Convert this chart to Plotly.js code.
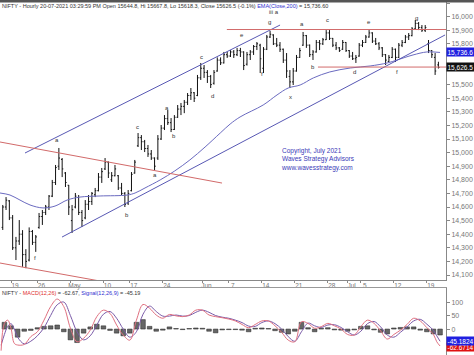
<!DOCTYPE html>
<html><head><meta charset="utf-8">
<script src="https://cdn.plot.ly/plotly-3.0.1.min.js"></script>
<style>html,body{margin:0;padding:0;background:#fff;}#chart{width:474px;height:355px;}</style>
</head><body><div id="chart"></div>
<script>
// trading sessions (index = position on the x axis)
const tradingDays = ['2021-04-15','2021-04-16','2021-04-19','2021-04-20','2021-04-22','2021-04-23',
 '2021-04-26','2021-04-27','2021-04-28','2021-04-29','2021-04-30','2021-05-03','2021-05-04','2021-05-05',
 '2021-05-06','2021-05-07','2021-05-10','2021-05-11','2021-05-12','2021-05-14','2021-05-17','2021-05-18',
 '2021-05-19','2021-05-20','2021-05-21','2021-05-24','2021-05-25','2021-05-26','2021-05-27','2021-05-28',
 '2021-05-31','2021-06-01','2021-06-02','2021-06-03','2021-06-04','2021-06-07','2021-06-08','2021-06-09',
 '2021-06-10','2021-06-11','2021-06-14','2021-06-15','2021-06-16','2021-06-17','2021-06-18','2021-06-21',
 '2021-06-22','2021-06-23','2021-06-24','2021-06-25','2021-06-28','2021-06-29','2021-06-30','2021-07-01',
 '2021-07-02','2021-07-05','2021-07-06','2021-07-07','2021-07-08','2021-07-09','2021-07-12','2021-07-13',
 '2021-07-14','2021-07-15','2021-07-16','2021-07-19','2021-07-20'];

// half-session price bars (first = second half of 15 Apr)
const barOpen = [14450,14600,14645,14520,14300,14350,14400,14250,14210,14420,14340,14450,14530,14560,14600,14680,14780,14900,14950,14850,14760,14500,14600,14670,14560,14520,14620,14640,14690,14720,14820,14880,14930,14800,14830,14830,14740,14700,14630,14720,14850,15050,15110,15080,15030,14990,14960,14960,15100,15180,15250,15220,15170,15260,15320,15340,15370,15420,15440,15420,15550,15620,15590,15560,15510,15600,15680,15660,15720,15710,15740,15720,15750,15740,15650,15720,15740,15780,15790,15620,15760,15850,15865,15800,15790,15760,15680,15560,15520,15600,15700,15790,15860,15790,15720,15740,15810,15800,15830,15880,15840,15790,15770,15760,15810,15750,15710,15690,15710,15790,15810,15850,15880,15820,15800,15770,15720,15670,15700,15760,15700,15790,15810,15850,15860,15910,15950,15920,15900,15800,15750,15700,15645];
const barHigh = [14615,14673,14651,14541,14380,14504,14430,14290,14450,14431,14394,14556,14578,14615,14688,14799,14909,15034,14960,14857,14762,14615,14703,14688,14578,14651,14688,14710,14740,14850,14887,14960,14935,14857,14909,14835,14777,14710,14725,14857,14946,15144,15129,15093,15056,15019,14965,15129,15203,15276,15313,15254,15276,15350,15365,15387,15438,15475,15445,15571,15659,15644,15607,15571,15607,15700,15700,15740,15740,15754,15754,15770,15770,15745,15740,15754,15791,15813,15800,15776,15865,15894,15870,15843,15813,15765,15732,15607,15622,15718,15770,15887,15865,15795,15754,15828,15828,15843,15901,15901,15843,15813,15776,15828,15813,15754,15740,15718,15806,15828,15865,15901,15885,15843,15813,15776,15725,15718,15776,15765,15806,15828,15865,15879,15923,15975,15960,15938,15938,15828,15754,15732,15668];
const barLow = [14431,14578,14504,14284,14210,14321,14160,14150,14200,14321,14270,14440,14468,14541,14578,14673,14762,14872,14820,14747,14541,14409,14590,14541,14453,14510,14578,14615,14673,14715,14777,14872,14813,14784,14825,14725,14688,14600,14615,14715,14845,15041,15019,15004,14968,14946,14872,14946,15093,15166,15203,15151,15166,15255,15276,15290,15350,15387,15372,15415,15534,15549,15512,15475,15500,15595,15644,15655,15696,15703,15696,15710,15703,15607,15640,15681,15718,15754,15585,15585,15754,15843,15791,15776,15740,15659,15549,15475,15497,15595,15696,15785,15770,15703,15681,15735,15754,15791,15828,15828,15776,15754,15740,15755,15740,15696,15681,15659,15705,15776,15806,15845,15806,15791,15754,15703,15644,15666,15695,15666,15695,15776,15805,15828,15855,15905,15901,15887,15887,15732,15696,15571,15618];
const barClose = [14600,14650,14520,14300,14350,14400,14250,14200,14420,14340,14380,14530,14560,14600,14680,14780,14890,14960,14880,14780,14600,14580,14680,14560,14500,14620,14640,14700,14720,14820,14860,14930,14850,14830,14880,14740,14700,14620,14700,14840,14930,15110,15080,15030,14990,14960,14900,15100,15180,15250,15220,15170,15260,15320,15340,15370,15420,15440,15400,15550,15620,15590,15560,15500,15590,15680,15660,15720,15710,15740,15720,15750,15740,15640,15720,15740,15780,15800,15690,15760,15850,15870,15800,15790,15760,15680,15600,15520,15600,15700,15750,15860,15790,15720,15740,15810,15800,15830,15880,15840,15790,15770,15750,15810,15750,15710,15690,15700,15790,15810,15850,15880,15820,15800,15770,15720,15680,15700,15760,15700,15790,15810,15850,15860,15910,15950,15920,15900,15920,15750,15720,15600,15626.5];

// EMA(Close,200)
const emaDay   = [0.33,1.85,3.36,4.88,6.85,8.67,10.5,12.45,15.5,19.6,20.8,22.3,24.6,26.8,29.1,31.4,33.7,35.2,36.7,40.2,42.3,44,45.8,47.8,50.3,53.4,56.4,59,60.5,62.9,65,67];
const emaValue = [14703,14688,14651,14615,14593,14607,14651,14673,14681,14688,14703,14740,14799,14865,14946,15041,15144,15210,15262,15350,15424,15475,15497,15549,15593,15622,15637,15659,15681,15718,15740,15736.6];

// MACD pane
const macdDay = [0.5,1,1.5,2,2.5,3,4,5,6,7,8,9,10,11,12,13,14,15,16,17,18,19,20,21,22,23,24,25,26,27,28,29,30,31,32,33,34,35,36,37,38,39,40,41,42,43,44,45,46,47,48,49,50,51,52,53,54,55,56,57,58,59,60,61,62,63,64,65,66,66.5,67];
const macdValue = [-80,21,33,3,-53,-59,-57,-28,-10,33,83,111,83,3,-47,-34,-4,46,70,58,15,-22,-41,33,91,77,52,40,54,49,46,52,70,70,52,46,42,37,30,17,5,17,30,30,12,-12,-41,-47,27,21,3,9,21,12,0,-20,-22,9,33,21,-7,-37,-20,-4,17,40,30,5,-20,-47,-62.67];
const signalValue = [-60,-20,10,20,0,-30,-55,-45,-25,5,50,90,100,50,-10,-40,-25,15,55,65,40,0,-30,-10,55,85,65,48,48,52,48,50,62,70,62,50,44,40,33,24,11,10,24,30,20,0,-28,-45,-10,22,12,6,15,16,6,-10,-22,-8,20,28,8,-22,-30,-12,8,30,36,18,-5,-25,-45.18];
const histDay = [1,2,3,4,5,6,7,8,9,10,11,12,13,14,15,16,17,18,19,20,21,22,23,24,25,26,27,28,29,30,31,32,33,34,35,36,37,38,39,40,41,42,43,44,45,46,47,48,49,50,51,52,53,54,55,56,57,58,59,60,61,62,63,64,65,66,67];
const histValue = [25,12,-30,-8,-5,5,10,12,15,-10,-40,-50,-15,8,18,12,-5,-15,-25,-15,25,35,10,-8,-4,8,2,-2,2,4,3,-8,-14,-3,-2,-2,-4,-10,3,4,2,-6,-12,-18,-8,25,5,-10,3,5,-3,-4,-8,-3,10,12,-3,-12,-18,4,6,8,8,-4,-10,-18,-22];

const tickDates = ['2021-04-19','2021-04-26','2021-05-03','2021-05-10','2021-05-17','2021-05-24','2021-06-01','2021-06-07','2021-06-14','2021-06-21','2021-06-28','2021-07-01','2021-07-05','2021-07-12','2021-07-19'];
const tickText  = ['19','26','May','10','17','24','Jun','7','14','21','28','Jul','5','12','19'];
// 15,600 and 15,700 sit behind the last-value tags in the reference
const priceTicks = [14100,14200,14300,14400,14500,14600,14700,14800,14900,15000,15100,15200,15300,15400,15500,15800,15900,16000,16100];

const waveLabels = [
 ['a',8.97,15093],['f',5.64,14225],['c',21.1,15188],['a',23.8,14835],['a',25.6,15328],['b',26.7,15122],
 ['b',19.6,14541],['c',30.8,15703],['d',32.45,15416],['e',37.0,15865],['f',40.0,15578],['g',41.1,15960],
 ['iii a',41.8,16034],['x',44.3,15409],['a',46.1,15946],['b',47.76,15629],['c',49.9,15975],['d',54.1,15593],
 ['e',56.2,15960],['f',60.5,15593],['g',63.4,15990]];

const barX = barOpen.map((_, k) => Math.floor((k + 1) / 2) + ((k + 1) % 2 ? 0.75 : 0.25));
const tickVals = tickDates.map(d => tradingDays.indexOf(d));

const RED = '#d26a6a', BLUE = '#5858b4';
const traces = [
 {type:'ohlc', x:barX, open:barOpen, high:barHigh, low:barLow, close:barClose, xaxis:'x', yaxis:'y',
  increasing:{line:{color:'#111',width:1}}, decreasing:{line:{color:'#111',width:1}}, tickwidth:0.35, hoverinfo:'skip'},
 {type:'scatter', mode:'lines', x:emaDay, y:emaValue, line:{color:'#6a6ac0',width:1,shape:'spline'}, xaxis:'x', yaxis:'y', hoverinfo:'skip'},
 {type:'bar', x:histDay, y:histValue, width:0.7, marker:{color:'#666',line:{color:'#222',width:0.5}}, xaxis:'x2', yaxis:'y2', hoverinfo:'skip'},
 {type:'scatter', mode:'lines', x:macdDay, y:signalValue, line:{color:'#7a5aa8',width:1,shape:'spline'}, xaxis:'x2', yaxis:'y2', hoverinfo:'skip'},
 {type:'scatter', mode:'lines', x:macdDay, y:macdValue, line:{color:'#e07080',width:1,shape:'spline'}, xaxis:'x2', yaxis:'y2', hoverinfo:'skip'}
];

const F = 'Arial, "Liberation Sans", sans-serif';
const ann = waveLabels.map(w => ({text:w[0], x:w[1], y:w[2], xref:'x', yref:'y', showarrow:false,
  font:{family:F,size:6,color:'#333'}}));
ann.push(
 {xref:'paper', yref:'paper', x:0, y:1-6/355, xanchor:'left', yanchor:'middle', showarrow:false,
  text:'NIFTY - Hourly 20-07-2021 03:29:59 PM Open 15644.8, Hi 15667.8, Lo 15618.3, Close 15626.5 (-0.1%) <span style="color:#3030d0">EMA(Close,200)</span> = 15,736.60',
  font:{family:F,size:5.5,color:'#333'}},
 {xref:'paper', yref:'paper', x:0, y:1-293/355, xanchor:'left', yanchor:'middle', showarrow:false,
  text:'NIFTY - <span style="color:#e03030">MACD(12,26)</span> = -62.67, <span style="color:#3030d0">Signal(12,26,9)</span> = -45.19',
  font:{family:F,size:5.5,color:'#333'}},
 {xref:'paper', yref:'paper', x:279/446, y:1-145/355, xanchor:'left', yanchor:'top', showarrow:false, align:'left',
  text:'Copyright, July 2021<br>Waves Strategy Advisors<br>www.wavesstrategy.com',
  font:{family:F,size:6.5,color:'#3a3ab8'}},
 {xref:'paper', yref:'y', x:1, y:15736.6, xanchor:'left', yanchor:'middle', showarrow:false, text:'15,736.6',
  bgcolor:'#2020e0', font:{family:F,size:6.5,color:'#fff'}, borderpad:0.5},
 {xref:'paper', yref:'y', x:1, y:15626.5, xanchor:'left', yanchor:'middle', showarrow:false, text:'15,626.5',
  bgcolor:'#111', font:{family:F,size:6.5,color:'#fff'}, borderpad:0.5},
 {xref:'paper', yref:'y2', x:1, y:-67, xanchor:'left', yanchor:'middle', showarrow:false, text:'-62.6714',
  bgcolor:'#e01010', font:{family:F,size:6.5,color:'#fff'}, borderpad:0.5},
 {xref:'paper', yref:'y2', x:1, y:-45.18, xanchor:'left', yanchor:'middle', showarrow:false, text:'-45.1824',
  bgcolor:'#2020e0', font:{family:F,size:6.5,color:'#fff'}, borderpad:0.5}
);

const shapes = [
 {type:'rect', xref:'paper', yref:'paper', x0:0, x1:474/446, y0:1-2.5/355, y1:1, fillcolor:'#555', line:{width:0}},
 {type:'line', xref:'x', yref:'y', x0:4.12, y0:14997, x1:42.76, y1:15938, line:{color:BLUE,width:1}},
 {type:'line', xref:'x', yref:'y', x0:9.73, y0:14379, x1:67.76, y1:15865, line:{color:BLUE,width:1}},
 {type:'line', xref:'x', yref:'y', x0:0.33, y0:15078, x1:33.97, y1:14776, line:{color:RED,width:1}},
 {type:'line', xref:'x', yref:'y', x0:0.33, y0:14188, x1:16.24, y1:14049, line:{color:RED,width:1}},
 {type:'line', xref:'x', yref:'y', x0:34.7, y0:15905, x1:67.9, y1:15905, line:{color:RED,width:1}},
 {type:'line', xref:'x', yref:'y', x0:48.5, y0:15629, x1:67.9, y1:15629, line:{color:RED,width:1}}
];

const tickFont = {family:F, size:7, color:'#777'};
const layout = {
 width:474, height:355, margin:{l:0,r:28,t:0,b:0}, paper_bgcolor:'#fff', plot_bgcolor:'#fff', showlegend:false,
 xaxis:{domain:[0,1], range:[0.333,67.9], anchor:'y', showline:true, linecolor:'#888', linewidth:1,
   ticks:'outside', ticklen:2, tickcolor:'#888', tickvals:tickVals, ticktext:tickText, tickfont:{family:F,size:6.5,color:'#777'},
   ticklabelshift:4, ticklabelstandoff:-3, showgrid:false, zeroline:false, rangeslider:{visible:false}, fixedrange:true},
 xaxis2:{domain:[0,1], matches:'x', anchor:'y2', side:'top', showline:true, linecolor:'#999', linewidth:1,
   showticklabels:false, ticks:'', showgrid:false, zeroline:false, rangeslider:{visible:false}},
 yaxis:{domain:[1-280/355,1], range:[14063.2,16122.1], side:'right', anchor:'x', showline:true, linecolor:'#888',
   ticks:'outside', ticklen:3, tickcolor:'#888', tickvals:priceTicks, tickformat:',d', tickfont:tickFont,
   showgrid:false, zeroline:false},
 yaxis2:{domain:[0,67/355], range:[-96,152], side:'right', anchor:'x2', showline:true, linecolor:'#888',
   ticks:'outside', ticklen:3, tickcolor:'#888', tickvals:[0,50,100], tickfont:tickFont,
   showgrid:false, zeroline:false},
 bargap:0.1,
 annotations:ann, shapes:shapes
};
Plotly.newPlot('chart', traces, layout, {staticPlot:true, displayModeBar:false});
</script></body></html>
